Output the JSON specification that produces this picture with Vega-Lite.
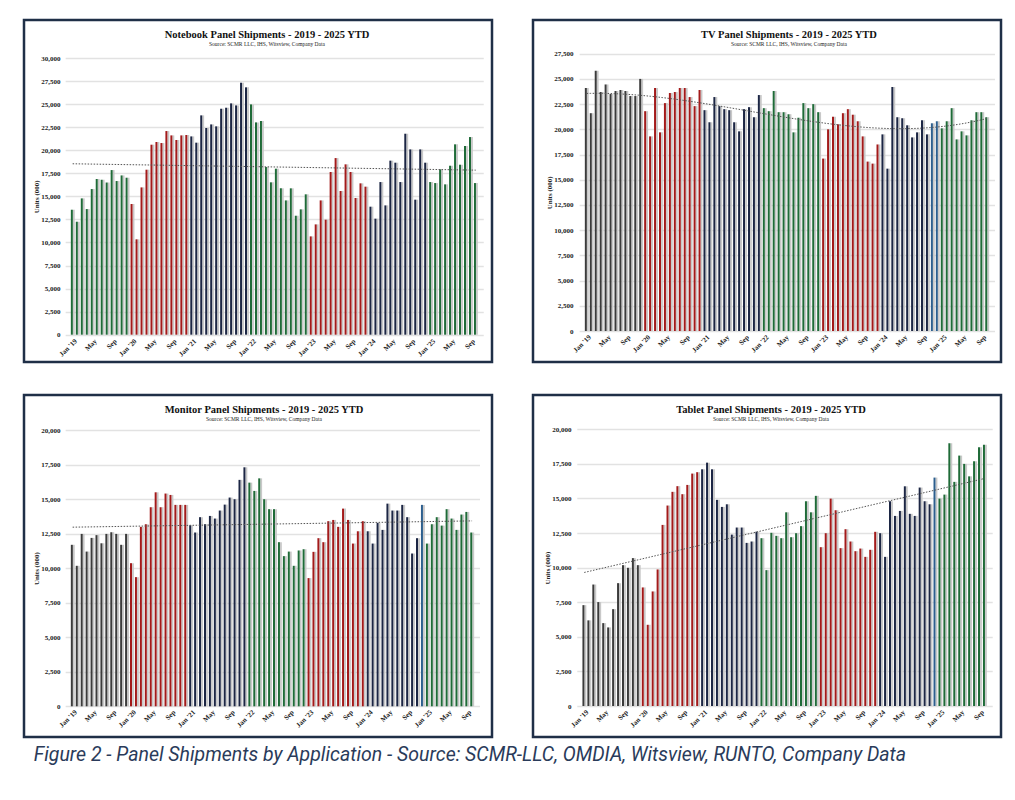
{
  "$schema": "https://vega.github.io/schema/vega-lite/v6.json",
  "padding": {"left": 22, "top": 18, "right": 5, "bottom": 5},
  "background": "white",
  "config": {
    "view": {"stroke": "#1f2f47", "strokeWidth": 2.5},
    "axis": {"labelFont": "Liberation Serif", "labelFontWeight": "bold", "labelFontSize": 7, "labelColor": "#222222", "titleFont": "Liberation Serif", "titleFontWeight": "bold", "titleFontSize": 7, "titleColor": "#222222", "labelOverlap": false}
  },
  "title": {"text": "Figure 2 - Panel Shipments by Application - Source: SCMR-LLC, OMDIA, Witsview, RUNTO, Company Data", "orient": "bottom", "anchor": "start", "offset": 8, "dx": 11, "font": "Liberation Sans Narrow, Roboto, sans-serif", "fontStyle": "italic", "fontSize": 19.5, "fontWeight": "normal", "color": "#2a3b5a"},
  "datasets": {
    "d": [
      {"i":0,"d":"2019-01","yr":"2019","nb":13550,"tv":24100,"mon":11690,"tab":7290},
      {"i":1,"d":"2019-02","yr":"2019","nb":12250,"tv":21600,"mon":10170,"tab":6190},
      {"i":2,"d":"2019-03","yr":"2019","nb":14780,"tv":25800,"mon":12480,"tab":8780},
      {"i":3,"d":"2019-04","yr":"2019","nb":13620,"tv":23700,"mon":11200,"tab":7510},
      {"i":4,"d":"2019-05","yr":"2019","nb":15790,"tv":24450,"mon":12190,"tab":5990},
      {"i":5,"d":"2019-06","yr":"2019","nb":16880,"tv":23500,"mon":12390,"tab":5680},
      {"i":6,"d":"2019-07","yr":"2019","nb":16800,"tv":23800,"mon":11800,"tab":7000},
      {"i":7,"d":"2019-08","yr":"2019","nb":16500,"tv":23900,"mon":12480,"tab":8880},
      {"i":8,"d":"2019-09","yr":"2019","nb":17850,"tv":23800,"mon":12600,"tab":10180},
      {"i":9,"d":"2019-10","yr":"2019","nb":16660,"tv":23300,"mon":12480,"tab":9990},
      {"i":10,"d":"2019-11","yr":"2019","nb":17270,"tv":23300,"mon":11690,"tab":10690},
      {"i":11,"d":"2019-12","yr":"2019","nb":17020,"tv":25000,"mon":12480,"tab":10180},
      {"i":12,"d":"2020-01","yr":"2020","nb":14170,"tv":21800,"mon":10360,"tab":8570},
      {"i":13,"d":"2020-02","yr":"2020","nb":10340,"tv":19300,"mon":9350,"tab":5870},
      {"i":14,"d":"2020-03","yr":"2020","nb":15970,"tv":24100,"mon":12990,"tab":8280},
      {"i":15,"d":"2020-04","yr":"2020","nb":17890,"tv":19700,"mon":13180,"tab":9870},
      {"i":16,"d":"2020-05","yr":"2020","nb":20600,"tv":22600,"mon":14410,"tab":13090},
      {"i":17,"d":"2020-06","yr":"2020","nb":20890,"tv":23600,"mon":15490,"tab":14490},
      {"i":18,"d":"2020-07","yr":"2020","nb":20780,"tv":23700,"mon":14410,"tab":15480},
      {"i":19,"d":"2020-08","yr":"2020","nb":22080,"tv":24100,"mon":15400,"tab":15890},
      {"i":20,"d":"2020-09","yr":"2020","nb":21610,"tv":24100,"mon":15300,"tab":15310},
      {"i":21,"d":"2020-10","yr":"2020","nb":21110,"tv":23200,"mon":14580,"tab":15980},
      {"i":22,"d":"2020-11","yr":"2020","nb":21610,"tv":22300,"mon":14580,"tab":16800},
      {"i":23,"d":"2020-12","yr":"2020","nb":21650,"tv":23900,"mon":14580,"tab":16900},
      {"i":24,"d":"2021-01","yr":"2021","nb":21500,"tv":21900,"mon":13100,"tab":17110},
      {"i":25,"d":"2021-02","yr":"2021","nb":20820,"tv":20700,"mon":12580,"tab":17590},
      {"i":26,"d":"2021-03","yr":"2021","nb":23780,"tv":23200,"mon":13690,"tab":17110},
      {"i":27,"d":"2021-04","yr":"2021","nb":22410,"tv":22300,"mon":13180,"tab":14900},
      {"i":28,"d":"2021-05","yr":"2021","nb":22800,"tv":22000,"mon":13780,"tab":14390},
      {"i":29,"d":"2021-06","yr":"2021","nb":22590,"tv":21900,"mon":13590,"tab":14580},
      {"i":30,"d":"2021-07","yr":"2021","nb":24500,"tv":20700,"mon":14170,"tab":12390},
      {"i":31,"d":"2021-08","yr":"2021","nb":24610,"tv":19800,"mon":14600,"tab":12900},
      {"i":32,"d":"2021-09","yr":"2021","nb":25080,"tv":22000,"mon":15110,"tab":12900},
      {"i":33,"d":"2021-10","yr":"2021","nb":24860,"tv":22200,"mon":14990,"tab":11790},
      {"i":34,"d":"2021-11","yr":"2021","nb":27320,"tv":21200,"mon":16390,"tab":11890},
      {"i":35,"d":"2021-12","yr":"2021","nb":26820,"tv":23400,"mon":17300,"tab":12600},
      {"i":36,"d":"2022-01","yr":"2022","nb":24970,"tv":22100,"mon":16190,"tab":12130},
      {"i":37,"d":"2022-02","yr":"2022","nb":23020,"tv":21800,"mon":15590,"tab":9820},
      {"i":38,"d":"2022-03","yr":"2022","nb":23170,"tv":23800,"mon":16500,"tab":12520},
      {"i":39,"d":"2022-04","yr":"2022","nb":18180,"tv":21700,"mon":14990,"tab":12300},
      {"i":40,"d":"2022-05","yr":"2022","nb":16520,"tv":21700,"mon":14270,"tab":12130},
      {"i":41,"d":"2022-06","yr":"2022","nb":18000,"tv":21500,"mon":14270,"tab":14000},
      {"i":42,"d":"2022-07","yr":"2022","nb":15870,"tv":19700,"mon":11880,"tab":12200},
      {"i":43,"d":"2022-08","yr":"2022","nb":14560,"tv":21150,"mon":10870,"tab":12490},
      {"i":44,"d":"2022-09","yr":"2022","nb":15870,"tv":22600,"mon":11200,"tab":13000},
      {"i":45,"d":"2022-10","yr":"2022","nb":12900,"tv":22100,"mon":10170,"tab":14800},
      {"i":46,"d":"2022-11","yr":"2022","nb":13590,"tv":22500,"mon":11280,"tab":14000},
      {"i":47,"d":"2022-12","yr":"2022","nb":15220,"tv":21700,"mon":11370,"tab":15190},
      {"i":48,"d":"2023-01","yr":"2023","nb":10660,"tv":17100,"mon":9280,"tab":11480},
      {"i":49,"d":"2023-02","yr":"2023","nb":11960,"tv":20000,"mon":11180,"tab":12490},
      {"i":50,"d":"2023-03","yr":"2023","nb":14560,"tv":21250,"mon":12170,"tab":14990},
      {"i":51,"d":"2023-04","yr":"2023","nb":12470,"tv":20500,"mon":11880,"tab":14150},
      {"i":52,"d":"2023-05","yr":"2023","nb":17640,"tv":21600,"mon":13400,"tab":11410},
      {"i":53,"d":"2023-06","yr":"2023","nb":19150,"tv":22000,"mon":13490,"tab":12780},
      {"i":54,"d":"2023-07","yr":"2023","nb":15580,"tv":21450,"mon":12990,"tab":11890},
      {"i":55,"d":"2023-08","yr":"2023","nb":18470,"tv":20800,"mon":14310,"tab":11190},
      {"i":56,"d":"2023-09","yr":"2023","nb":17640,"tv":19300,"mon":13490,"tab":11380},
      {"i":57,"d":"2023-10","yr":"2023","nb":14820,"tv":16800,"mon":11780,"tab":10780},
      {"i":58,"d":"2023-11","yr":"2023","nb":16410,"tv":16600,"mon":12670,"tab":11290},
      {"i":59,"d":"2023-12","yr":"2023","nb":16050,"tv":18500,"mon":13400,"tab":12590},
      {"i":60,"d":"2024-01","yr":"2024","nb":13880,"tv":19500,"mon":12670,"tab":12490},
      {"i":61,"d":"2024-02","yr":"2024","nb":12580,"tv":16100,"mon":11780,"tab":10780},
      {"i":62,"d":"2024-03","yr":"2024","nb":16550,"tv":24200,"mon":13280,"tab":14800},
      {"i":63,"d":"2024-04","yr":"2024","nb":14020,"tv":21200,"mon":12770,"tab":13740},
      {"i":64,"d":"2024-05","yr":"2024","nb":18870,"tv":21100,"mon":14670,"tab":14100},
      {"i":65,"d":"2024-06","yr":"2024","nb":18650,"tv":20400,"mon":14170,"tab":15880},
      {"i":66,"d":"2024-07","yr":"2024","nb":16550,"tv":19200,"mon":14170,"tab":13890},
      {"i":67,"d":"2024-08","yr":"2024","nb":21790,"tv":19700,"mon":14580,"tab":13740},
      {"i":68,"d":"2024-09","yr":"2024","nb":20090,"tv":20900,"mon":13690,"tab":15790},
      {"i":69,"d":"2024-10","yr":"2024","nb":14640,"tv":19500,"mon":11060,"tab":14800},
      {"i":70,"d":"2024-11","yr":"2024","nb":20090,"tv":20600,"mon":12170,"tab":14580},
      {"i":71,"d":"2024-12","yr":"2024","nb":18650,"tv":20800,"mon":14580,"tab":16510},
      {"i":72,"d":"2025-01","yr":"2025","nb":16550,"tv":20100,"mon":11780,"tab":14990},
      {"i":73,"d":"2025-02","yr":"2025","nb":16440,"tv":20800,"mon":13180,"tab":15280},
      {"i":74,"d":"2025-03","yr":"2025","nb":17930,"tv":22100,"mon":13690,"tab":18990},
      {"i":75,"d":"2025-04","yr":"2025","nb":16300,"tv":19000,"mon":13080,"tab":16200},
      {"i":76,"d":"2025-05","yr":"2025","nb":18320,"tv":19800,"mon":14270,"tab":18100},
      {"i":77,"d":"2025-06","yr":"2025","nb":20640,"tv":19400,"mon":13590,"tab":17500},
      {"i":78,"d":"2025-07","yr":"2025","nb":18430,"tv":20900,"mon":12770,"tab":16600},
      {"i":79,"d":"2025-08","yr":"2025","nb":20460,"tv":21700,"mon":13880,"tab":17690},
      {"i":80,"d":"2025-09","yr":"2025","nb":21430,"tv":21700,"mon":14070,"tab":18700},
      {"i":81,"d":"2025-10","yr":"2025","nb":16440,"tv":21200,"mon":12580,"tab":18890}
    ]
  },
  "columns": 2,
  "spacing": {"row": 29, "column": 37},
  "resolve": {"scale": {"color": "independent", "x": "independent", "y": "independent"}},
  "concat": [
    {
      "width": 468, "height": 342,
      "data": {"name": "d"},
      "title": {"text": "Notebook Panel Shipments - 2019 - 2025 YTD", "subtitle": "Source: SCMR LLC, IHS, Witsview, Company Data", "anchor": "middle", "frame": "group", "offset": -27, "dx": 9, "font": "Liberation Serif", "fontSize": 10.5, "fontWeight": "bold", "color": "#111111", "subtitleFont": "Liberation Serif", "subtitleFontSize": 5.5, "subtitleColor": "#222222", "subtitlePadding": 1},
      "encoding": {
        "x": {"field": "i", "type": "quantitative", "scale": {"domain": [-0.5, 81.5], "range": [41.15, 459.25], "nice": false, "zero": false}, "axis": {"values": [0,4,8,12,16,20,24,28,32,36,40,44,48,52,56,60,64,68,72,76,80], "labelExpr": "datum.value % 12 == 0 ? \"Jan '\" + (19 + floor(datum.value / 12)) : (datum.value % 12 == 4 ? 'May' : 'Sep')", "labelAngle": -45, "ticks": false, "domain": false, "grid": false, "title": null, "offset": -27, "labelPadding": 2}},
        "y": {"field": "nb", "type": "quantitative", "scale": {"domain": [0, 30000], "range": [314.7, 38], "nice": false}, "axis": {"values": [0,2500,5000,7500,10000,12500,15000,17500,20000,22500,25000,27500,30000], "format": ",d", "title": "Units (000)", "offset": -39, "labelPadding": 3, "ticks": false, "domain": false, "gridColor": "#e2e2e2", "gridWidth": 1.4, "titlePadding": 1}}
      },
      "layer": [
        {"mark": {"type": "bar", "orient": "vertical", "width": 1.8, "xOffset": 1.2, "color": "#c8c8c8"}},
        {"mark": {"type": "bar", "orient": "vertical", "width": 2, "xOffset": -0.8},
         "encoding": {"color": {"field": "yr", "type": "nominal", "legend": null, "scale": {"domain": ["2019","2020","2021","2022","2023","2024","2025"], "range": ["#1f6b38","#a31a1a","#1c2644","#1f6b38","#a31a1a","#1c2644","#1f6b38"]}}}},
        {"transform": [{"regression": "nb", "on": "i", "method": "linear", "extent": [0, 81]}],
         "mark": {"type": "line", "color": "#555555", "strokeWidth": 1, "strokeDash": [1.5, 1.5]}}
      ]
    },
    {
      "width": 468, "height": 342,
      "data": {"name": "d"},
      "title": {"text": "TV Panel Shipments - 2019 - 2025 YTD", "subtitle": "Source: SCMR LLC, IHS, Witsview, Company Data", "anchor": "middle", "frame": "group", "offset": -27, "dx": 22, "font": "Liberation Serif", "fontSize": 10.5, "fontWeight": "bold", "color": "#111111", "subtitleFont": "Liberation Serif", "subtitleFontSize": 5.5, "subtitleColor": "#222222", "subtitlePadding": 1},
      "encoding": {
        "x": {"field": "i", "type": "quantitative", "scale": {"domain": [-0.5, 81.5], "range": [46.17, 461.53], "nice": false, "zero": false}, "axis": {"values": [0,4,8,12,16,20,24,28,32,36,40,44,48,52,56,60,64,68,72,76,80], "labelExpr": "datum.value % 12 == 0 ? \"Jan '\" + (19 + floor(datum.value / 12)) : (datum.value % 12 == 4 ? 'May' : 'Sep')", "labelAngle": -45, "ticks": false, "domain": false, "grid": false, "title": null, "offset": -31, "labelPadding": 2}},
        "y": {"field": "tv", "type": "quantitative", "scale": {"domain": [0, 27500], "range": [311, 33.7], "nice": false}, "axis": {"values": [0,2500,5000,7500,10000,12500,15000,17500,20000,22500,25000,27500], "format": ",d", "title": "Units (000)", "offset": -43, "labelPadding": 3, "ticks": false, "domain": false, "gridColor": "#e2e2e2", "gridWidth": 1.4, "titlePadding": 1}}
      },
      "layer": [
        {"mark": {"type": "bar", "orient": "vertical", "width": 1.8, "xOffset": 1.2, "color": "#c8c8c8"}},
        {"mark": {"type": "bar", "orient": "vertical", "width": 2, "xOffset": -0.8},
         "encoding": {"color": {"condition": {"test": "datum.d == '2024-11' || datum.d == '2024-12'", "value": "#2d5f8e"}, "field": "yr", "type": "nominal", "legend": null, "scale": {"domain": ["2019","2020","2021","2022","2023","2024","2025"], "range": ["#3b3b3b","#a31a1a","#1c2644","#1f6b38","#a31a1a","#1c2644","#1f6b38"]}}}},
        {"transform": [{"regression": "tv", "on": "i", "method": "poly", "order": 3, "extent": [0, 81]}],
         "mark": {"type": "line", "color": "#555555", "strokeWidth": 1, "strokeDash": [1.5, 1.5]}}
      ]
    },
    {
      "width": 468, "height": 342,
      "data": {"name": "d"},
      "title": {"text": "Monitor Panel Shipments - 2019 - 2025 YTD", "subtitle": "Source: SCMR LLC, IHS, Witsview, Company Data", "anchor": "middle", "frame": "group", "offset": -27, "dx": 6, "font": "Liberation Serif", "fontSize": 10.5, "fontWeight": "bold", "color": "#111111", "subtitleFont": "Liberation Serif", "subtitleFontSize": 5.5, "subtitleColor": "#222222", "subtitlePadding": 1},
      "encoding": {
        "x": {"field": "i", "type": "quantitative", "scale": {"domain": [-0.5, 81.5], "range": [41.17, 455.53], "nice": false, "zero": false}, "axis": {"values": [0,4,8,12,16,20,24,28,32,36,40,44,48,52,56,60,64,68,72,76,80], "labelExpr": "datum.value % 12 == 0 ? \"Jan '\" + (19 + floor(datum.value / 12)) : (datum.value % 12 == 4 ? 'May' : 'Sep')", "labelAngle": -45, "ticks": false, "domain": false, "grid": false, "title": null, "offset": -31, "labelPadding": 2}},
        "y": {"field": "mon", "type": "quantitative", "scale": {"domain": [0, 20000], "range": [311.3, 35], "nice": false}, "axis": {"values": [0,2500,5000,7500,10000,12500,15000,17500,20000], "format": ",d", "title": "Units (000)", "offset": -39, "labelPadding": 3, "ticks": false, "domain": false, "gridColor": "#e2e2e2", "gridWidth": 1.4, "titlePadding": 1}}
      },
      "layer": [
        {"mark": {"type": "bar", "orient": "vertical", "width": 1.8, "xOffset": 1.2, "color": "#c8c8c8"}},
        {"mark": {"type": "bar", "orient": "vertical", "width": 2, "xOffset": -0.8},
         "encoding": {"color": {"condition": {"test": "datum.d == '2024-12'", "value": "#2d5f8e"}, "field": "yr", "type": "nominal", "legend": null, "scale": {"domain": ["2019","2020","2021","2022","2023","2024","2025"], "range": ["#3b3b3b","#a31a1a","#1c2644","#1f6b38","#a31a1a","#1c2644","#1f6b38"]}}}},
        {"transform": [{"regression": "mon", "on": "i", "method": "linear", "extent": [0, 81]}],
         "mark": {"type": "line", "color": "#555555", "strokeWidth": 1, "strokeDash": [1.5, 1.5]}}
      ]
    },
    {
      "width": 468, "height": 342,
      "data": {"name": "d"},
      "title": {"text": "Tablet Panel Shipments - 2019 - 2025 YTD", "subtitle": "Source: SCMR LLC, IHS, Witsview, Company Data", "anchor": "middle", "frame": "group", "offset": -27, "dx": 4, "font": "Liberation Serif", "fontSize": 10.5, "fontWeight": "bold", "color": "#111111", "subtitleFont": "Liberation Serif", "subtitleFontSize": 5.5, "subtitleColor": "#222222", "subtitlePadding": 1},
      "encoding": {
        "x": {"field": "i", "type": "quantitative", "scale": {"domain": [-0.5, 81.5], "range": [43.77, 459.23], "nice": false, "zero": false}, "axis": {"values": [0,4,8,12,16,20,24,28,32,36,40,44,48,52,56,60,64,68,72,76,80], "labelExpr": "datum.value % 12 == 0 ? \"Jan '\" + (19 + floor(datum.value / 12)) : (datum.value % 12 == 4 ? 'May' : 'Sep')", "labelAngle": -45, "ticks": false, "domain": false, "grid": false, "title": null, "offset": -31, "labelPadding": 2}},
        "y": {"field": "tab", "type": "quantitative", "scale": {"domain": [0, 20000], "range": [311, 34.3], "nice": false}, "axis": {"values": [0,2500,5000,7500,10000,12500,15000,17500,20000], "format": ",d", "title": "Units (000)", "offset": -41, "labelPadding": 3, "ticks": false, "domain": false, "gridColor": "#e2e2e2", "gridWidth": 1.4, "titlePadding": 1}}
      },
      "layer": [
        {"mark": {"type": "bar", "orient": "vertical", "width": 1.8, "xOffset": 1.2, "color": "#c8c8c8"}},
        {"mark": {"type": "bar", "orient": "vertical", "width": 2, "xOffset": -0.8},
         "encoding": {"color": {"condition": {"test": "datum.d == '2024-12'", "value": "#2d5f8e"}, "field": "yr", "type": "nominal", "legend": null, "scale": {"domain": ["2019","2020","2021","2022","2023","2024","2025"], "range": ["#3b3b3b","#a31a1a","#1c2644","#1f6b38","#a31a1a","#1c2644","#1f6b38"]}}}},
        {"transform": [{"regression": "tab", "on": "i", "method": "linear", "extent": [0, 81]}],
         "mark": {"type": "line", "color": "#555555", "strokeWidth": 1, "strokeDash": [1.5, 1.5]}}
      ]
    }
  ]
}
